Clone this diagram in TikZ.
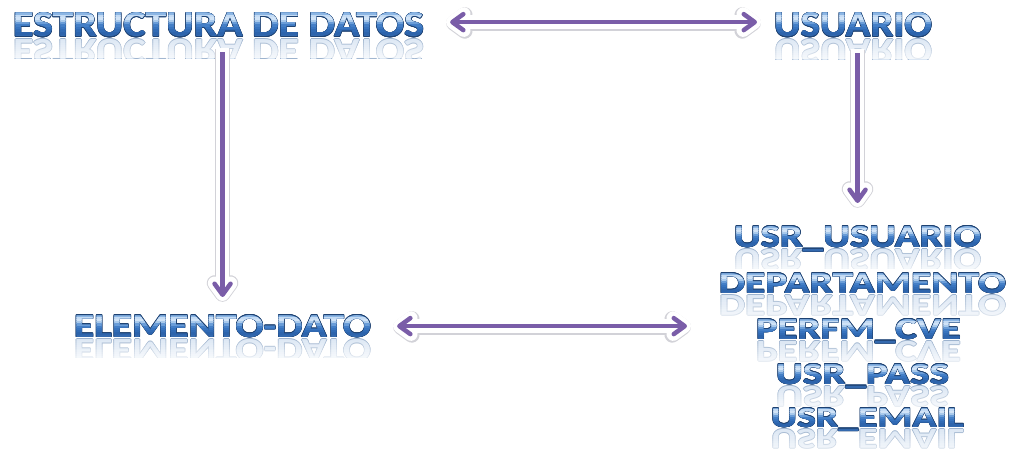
\documentclass[tikz,border=0pt]{standalone}
\usepackage{fontspec}
\setmainfont{Carlito}
\usepackage{graphicx}
\usetikzlibrary{calc,arrows.meta}

% colours
\definecolor{waEdge}{HTML}{1E4272}
\definecolor{reflEdge}{HTML}{9DB3CE}
\definecolor{reflFill}{HTML}{DCE7F4}
\definecolor{linkViolet}{HTML}{7A5DA8}
\definecolor{glowEdge}{HTML}{D2D2D8}
% glossy blue bands of the lettering, top to bottom
\definecolor{waF}{HTML}{8CB6E4}
\definecolor{waE}{HTML}{C4DBF4}
\definecolor{waD}{HTML}{D0E3F7}
\definecolor{waC}{HTML}{A9CAEC}
\definecolor{waB}{HTML}{6A9DD8}
\definecolor{waG}{HTML}{447FC7}
\definecolor{waH}{HTML}{3874BF}
\definecolor{waI}{HTML}{316BB5}
\definecolor{waJ}{HTML}{2D64AC}
\definecolor{waA}{HTML}{3469AE}

% lettering boxes
\newcommand\waText[3]{\resizebox{#1}{#2}{\bfseries #3}}
\newcommand\txtA{\waText{411pt}{24pt}{ESTRUCTURA DE DATOS}}
\newcommand\txtB{\waText{158pt}{24pt}{USUARIO}}
\newcommand\txtC{\waText{297pt}{22pt}{ELEMENTO-DATO}}
\newcommand\txtD{\waText{247pt}{21pt}{USR\_USUARIO}}
\newcommand\txtE{\waText{287pt}{20pt}{DEPARTAMENTO}}
\newcommand\txtF{\waText{205pt}{20pt}{PERFM\_CVE}}
\newcommand\txtG{\waText{173pt}{20pt}{USR\_PASS}}
\newcommand\txtH{\waText{193pt}{19pt}{USR\_EMAIL}}

\tikzset{
  txtbox/.style={inner sep=0pt,outer sep=0pt,anchor=base west},
  oneway/.style={arrows={-Straight Barb[length=11pt,width=16pt,round]}},
  twoway/.style={arrows={Straight Barb[length=11pt,width=16pt,round]-Straight Barb[length=11pt,width=16pt,round]}},
}

% #1 name, #2 x, #3 baseline, #4 box, #5 cap height, #6 depth of the mirror image
\newcommand\wordart[6]{%
  \node[txtbox] (#1) at (#2,#3) {\phantom{#4}};
  % mirror image below the baseline, fading out to white
  \begin{scope}
    \clip (#2-3,#3) rectangle ($(#1.base east)+(3,2.5+#6)$);
    \foreach \a in {0,45,...,315}
      \node[txtbox,text=reflEdge] at ($(#2,#3+2.5)+(\a:0.7)$) {\scalebox{1}[-1]{#4}};
    \node[txtbox,text=reflFill] at (#2,#3+2.5) {\scalebox{1}[-1]{#4}};
    \foreach \k in {1,...,10}
      \fill[white,fill opacity={\k/14}]
        (#2-3,{#3+2.5+(\k-1)*#6/10}) rectangle ($(#1.base east)+(3,{2.5+\k*#6/10})$);
  \end{scope}
  % dark rim
  \foreach \a in {0,30,...,330}
    \node[txtbox,text=waEdge] at ($(#2,#3)+(\a:0.55)$) {#4};
  % glossy body, painted band by band
  \node[txtbox,text=waA] at (#2,#3) {#4};
  \foreach \i/\c in {0/waF,1/waE,2/waD,3/waC,4/waB,5/waG,6/waH,7/waI,8/waJ} {
    \begin{scope}
      \clip (#2-3,{#3-#5+\i*#5/10-(\i==0)*4}) rectangle
            ($(#1.base east)+(3,{-#5+(\i+1)*#5/10})$);
      \node[txtbox,text=\c] at (#2,#3) {#4};
    \end{scope}
  }
}

% #1 tips, #2 from, #3 to, #4 gap at start, #5 gap at end
\newcommand\connector[5]{%
  \draw[#1,line width=15.5pt,draw=glowEdge,shorten <=#4-4pt,shorten >=#5-4pt,
        transform canvas={yshift=-0.8pt}] #2 -- #3;
  \draw[#1,line width=13.5pt,draw=white,shorten <=#4-4pt,shorten >=#5-4pt] #2 -- #3;
  \draw[#1,line width=4.5pt,draw=linkViolet,shorten <=#4,shorten >=#5] #2 -- #3;
}

\begin{document}
\begin{tikzpicture}[x=1pt,y=-1pt]
  \useasboundingbox[fill=white] (0,0) rectangle (1011,457);

  \wordart{est}{13}{37}{\txtA}{24}{19}
  \wordart{usu}{774}{37}{\txtB}{24}{20}
  \wordart{ele}{74}{337}{\txtC}{22}{18}
  \wordart{usr}{734}{247}{\txtD}{21}{19}
  \wordart{dep}{719}{293}{\txtE}{20}{23}
  \wordart{per}{756}{339}{\txtF}{20}{20}
  \wordart{pas}{776}{384}{\txtG}{20}{21}
  \wordart{ema}{771}{427}{\txtH}{19}{23}

  \connector{twoway}{([yshift=3pt]est.east)}{([yshift=3pt]usu.west)}{26pt}{17pt}
  \connector{oneway}{(est.south -| ele.north)}{(ele.north)}{15pt}{18pt}
  \connector{oneway}{(usu.south -| usr.north)}{(usr.north)}{16pt}{23pt}
  \connector{twoway}{(ele.east)}{(ele.east -| per.west)}{26pt}{69pt}
\end{tikzpicture}
\end{document}
